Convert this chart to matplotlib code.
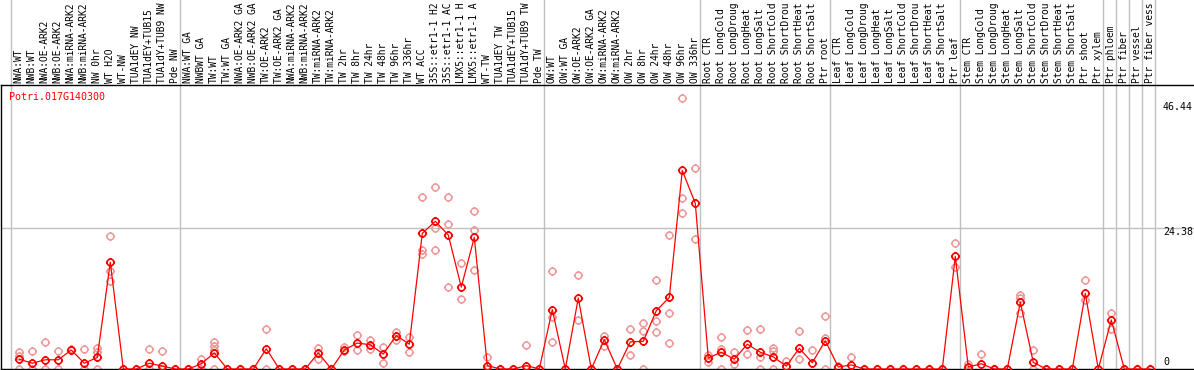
import matplotlib
matplotlib.use('Agg')
import matplotlib.pyplot as plt
from matplotlib.path import Path
from matplotlib.transforms import blended_transform_factory

gene = 'Potri.017G140300'

# sample names as far as the header shows them
samples = [
    'NWA:WT', 'NWB:WT', 'NWA:OE-ARK2', 'NWB:OE-ARK2', 'NWA:miRNA-ARK2', 'NWB:miRNA-ARK2',
    'NW 0hr', 'WT H2O', 'WT-NW', 'TUA1dEY NW', 'TUA1dEY+TUB15', 'TUA1dY+TUB9 NW', 'Pde NW',
    'NWA:WT GA', 'NWBWT GA', 'TW:WT', 'TW:WT GA', 'NWA:OE-ARK2 GA', 'NWB:OE-ARK2 GA',
    'TW:OE-ARK2', 'TW:OE-ARK2 GA', 'NWA:miRNA-ARK2', 'NWB:miRNA-ARK2', 'TW:miRNA-ARK2',
    'TW:miRNA-ARK2', 'TW 2hr', 'TW 8hr', 'TW 24hr', 'TW 48hr', 'TW 96hr', 'TW 336hr', 'WT ACC',
    '35S::etr1-1 H2', '35S::etr1-1 AC', 'LMX5::etr1-1 H', 'LMX5::etr1-1 A', 'WT-TW',
    'TUA1dEY TW', 'TUA1dEY+TUB15', 'TUA1dY+TUB9 TW', 'Pde TW',
    'OW:WT', 'OW:WT GA', 'OW:OE-ARK2', 'OW:OE-ARK2 GA', 'OW:miRNA-ARK2', 'OW:miRNA-ARK2',
    'OW 2hr', 'OW 8hr', 'OW 24hr', 'OW 48hr', 'OW 96hr', 'OW 336hr',
    'Root CTR', 'Root LongCold', 'Root LongDroug', 'Root LongHeat', 'Root LongSalt',
    'Root ShortCold', 'Root ShortDrou', 'Root ShortHeat', 'Root ShortSalt', 'Ptr root',
    'Leaf CTR', 'Leaf LongCold', 'Leaf LongDroug', 'Leaf LongHeat', 'Leaf LongSalt',
    'Leaf ShortCold', 'Leaf ShortDrou', 'Leaf ShortHeat', 'Leaf ShortSalt', 'Ptr leaf',
    'Stem CTR', 'Stem LongCold', 'Stem LongDroug', 'Stem LongHeat', 'Stem LongSalt',
    'Stem ShortCold', 'Stem ShortDrou', 'Stem ShortHeat', 'Stem ShortSalt', 'Ptr shoot',
    'Ptr xylem', 'Ptr phloem', 'Ptr fiber', 'Ptr vessel', 'Ptr fiber vess',
]

means = [
    1.7, 1.0, 1.6, 1.6, 3.3, 1.0, 2.0, 18.5, 0, 0, 1.0, 0.5, 0,
    0, 0.9, 2.8, 0, 0, 0, 3.5, 0, 0, 0, 2.8, 0, 3.3, 4.5, 4.2, 2.6, 5.8, 4.3,
    23.5, 25.6, 23.2, 14.2, 22.8, 0.6, 0, 0, 0.6, 0,
    10.3, 0, 12.3, 0, 5.1, 0, 4.7, 4.8, 10.1, 12.4, 34.4, 28.7,
    1.9, 2.9, 1.7, 4.3, 2.9, 2.1, 0.5, 3.6, 1.1, 4.9,
    0.35, 0.7, 0, 0, 0, 0, 0, 0, 0, 19.5,
    0.35, 0.9, 0, 0, 11.6, 1.15, 0, 0, 0, 13.1, 0,
    8.5, 0, 0, 0,
]

reps = [
    [3.0, 2.3, 0], [3.2, 0], [4.7, 0], [3.2, 0], [3.5], [3.5, 0], [3.6, 3.0, 0], [23.0, 17.0, 15.2],
    [0], [0], [3.5, 0], [3.2, 0], [0],
    [0], [1.8, 0], [4.7, 3.9, 3.3, 0], [0], [0], [0], [7.0, 0], [0], [0], [0], [3.6, 1.8], [0],
    [3.8, 3.2], [5.9, 3.3], [5.0, 3.5], [3.75, 1.0], [6.4, 5.1], [5.5, 2.9],
    [29.8, 20.7, 20.0], [31.5, 24.4, 20.7], [29.8, 25.2, 14.2], [18.4, 12.2], [27.4, 24.0, 17.1],
    [2.0, 0], [0], [0], [4.15, 0], [0],
    [17.0, 9.0, 4.7], [0], [16.3, 8.5], [0], [5.8, 3.9], [0], [6.9, 2.5], [7.95, 6.6, 0],
    [15.4, 8.3, 6.45], [23.2, 9.7, 4.5], [46.9, 29.6, 27.0], [34.8, 22.5],
    [2.4, 1.2], [5.6, 3.5, 0], [2.9, 0.9], [6.8, 2.6], [7.0, 2.1, 0], [3.6, 3.2, 0], [1.4],
    [6.6, 1.8], [3.3], [9.2, 5.3, 0],
    [0.6], [2.1], [0], [0], [0], [0], [0], [0], [0], [21.8, 17.6],
    [0.9], [2.6], [0], [0], [12.85, 12.3, 9.7], [3.3, 0], [0], [0], [0], [15.4, 12.0], [0],
    [9.7, 7.0], [0], [0], [0],
]

group_starts = [0, 13, 41, 53, 63, 73, 84, 85, 86, 87, 88]
tick_values = [46.44, 24.38, 0]

# figure in pixels: 1194 x 370
W, H = 1194, 370
fig = plt.figure(figsize=(W / 100, H / 100), dpi=100)
ax = fig.add_axes([1 / W, 1 / H, 1193 / W, 284 / H])

x0, dx = 19.3, 13.0   # pixel position of first column, column spacing
ax.set_xlim((1 - x0) / dx, (W - x0) / dx)
ax.set_ylim(0, 284 / 5.771)
ax.set_xticks([])
ax.set_yticks([])
ax.spines['right'].set_visible(False)
for s in ['left', 'bottom', 'top']:
    ax.spines[s].set_color('black')
    ax.spines[s].set_linewidth(1.0)

# circle marker with small ticks
circ = Path.unit_circle()
ticks = Path([[0, 1], [0, 1.35], [0, -1], [0, -1.35], [1, 0], [1.35, 0], [-1, 0], [-1.35, 0]],
             [Path.MOVETO, Path.LINETO] * 4)
marker = Path.make_compound_path(circ, ticks)

xs = list(range(len(samples)))

# grid lines
trans_v = blended_transform_factory(ax.transData, fig.transFigure)
for g in group_starts:
    ax.plot([g - 0.64, g - 0.64], [0, 1], color='#c0c0c0', lw=1.0, transform=trans_v,
            clip_on=False, zorder=1)
ax.axhline(24.38, color='#c0c0c0', lw=1.0, zorder=1)

# replicates
for i, r in enumerate(reps):
    ax.plot([i] * len(r), r, linestyle='none', marker=marker, markersize=6.6,
            markerfacecolor='none', markeredgecolor='#ee9a9a', markeredgewidth=1.1,
            clip_on=False, zorder=2)

# mean line
ax.plot(xs, means, color='#ff0000', lw=0.9, zorder=3, clip_on=False)
ax.plot(xs, means, linestyle='none', marker=marker, markersize=6.6, markerfacecolor='none',
        markeredgecolor='#ff0000', markeredgewidth=1.2, zorder=4, clip_on=False)

# sample labels in header
for i, name in enumerate(samples):
    fig.text(i - 0.05, (H - 83) / H, name, rotation=90, ha='center', va='bottom',
             family='DejaVu Sans Mono', fontsize=6.9, color='black', transform=trans_v)

# gene name
fig.text(9 / W, (H - 97) / H, gene, ha='left', va='center', family='DejaVu Sans Mono',
         fontsize=7.2, color='#ff0000')

# value labels on the right
label_y = {46.44: 107, 24.38: 232, 0: 362}
for v in tick_values:
    fig.text(1163 / W, (H - label_y[v]) / H, f'{v:g}', ha='left', va='center',
             family='DejaVu Sans Mono', fontsize=7.2, color='black')

fig.savefig('out.png', dpi=100)
